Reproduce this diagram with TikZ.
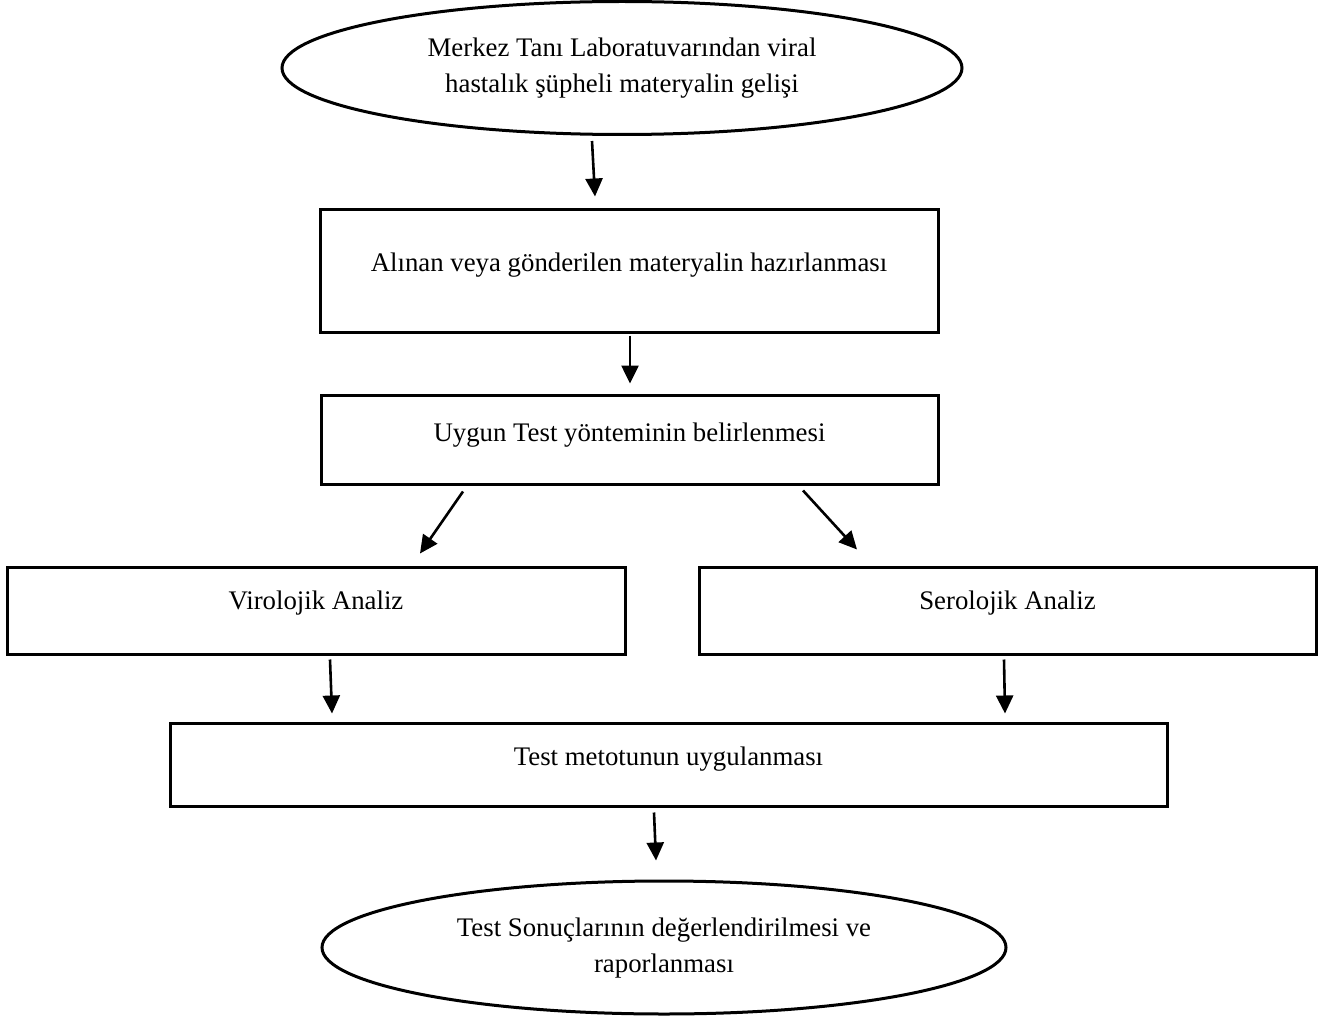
\documentclass[tikz,border=0pt]{standalone}
\usepackage{fontspec}
\setmainfont{Liberation Serif}
\usetikzlibrary{arrows.meta,shapes.geometric}

\tikzset{
  box/.style={draw, line width=1.5pt, rectangle, inner sep=0pt},
  oval/.style={draw, line width=1.5pt, ellipse, inner sep=0pt},
  txt/.style={align=center, font=\fontsize{13.4}{18}\selectfont},
  arr/.style={line width=1.3pt, -{Triangle[length=9pt,width=8.5pt]}}
}

\begin{document}
\begin{tikzpicture}[x=0.5pt, y=-0.5pt]
	\useasboundingbox (0,0) rectangle (1322,1016);

	% start
	\node[oval, minimum width=340pt, minimum height=66.5pt] (start) at (622,68) {};
	\node[txt] (startt) at (622,68) {Merkez Tanı Laboratuvarından viral\\hastalık şüpheli materyalin gelişi};

	% preparation
	\node[box, minimum width=309pt, minimum height=61pt] (prep) at (629,271) {};
	\node[txt] (prept) at (629,265) {Alınan veya gönderilen materyalin hazırlanması};

	% test method
	\node[box, minimum width=308.5pt, minimum height=44.5pt] (method) at (629.5,439.5) {};
	\node[txt] (methodt) at (629.5,435) {Uygun Test yönteminin belirlenmesi};

	% analyses
	\node[box, minimum width=309pt, minimum height=43.5pt] (viro) at (316,610.5) {};
	\node[txt] (virot) at (316,603) {Virolojik Analiz};
	\node[box, minimum width=308.5pt, minimum height=43.5pt] (sero) at (1007.5,610.5) {};
	\node[txt] (serot) at (1007.5,603) {Serolojik Analiz};

	% application
	\node[box, minimum width=498.5pt, minimum height=41.5pt] (apply) at (668.5,764.5) {};
	\node[txt] (applyt) at (668.5,759) {Test metotunun uygulanması};

	% results
	\node[oval, minimum width=342pt, minimum height=66.5pt] (result) at (664,947.5) {};
	\node[txt] (resultt) at (664,948) {Test Sonuçlarının değerlendirilmesi ve\\raporlanması};

	% arrows
	\draw[arr] ([shift={(-30,5)}]start.south) -- ([shift={(-34,-12)}]prep.north);
	\draw[arr] ([shift={(1,2)}]prep.south) -- ([shift={(0.5,-10)}]method.north);
	\draw[arr] ([shift={(-166.5,6)}]method.south) -- ([shift={(104,-12)}]viro.north);
	\draw[arr] ([shift={(173.5,5)}]method.south) -- ([shift={(-150.5,-16)}]sero.north);
	\draw[arr] ([shift={(14,4)}]viro.south) -- ([shift={(-336.5,-8)}]apply.north);
	\draw[arr] ([shift={(-3.5,4)}]sero.south) -- ([shift={(336.5,-8)}]apply.north);
	\draw[arr] ([shift={(-14.5,5)}]apply.south) -- ([shift={(-8,-19)}]result.north);
\end{tikzpicture}
\end{document}
